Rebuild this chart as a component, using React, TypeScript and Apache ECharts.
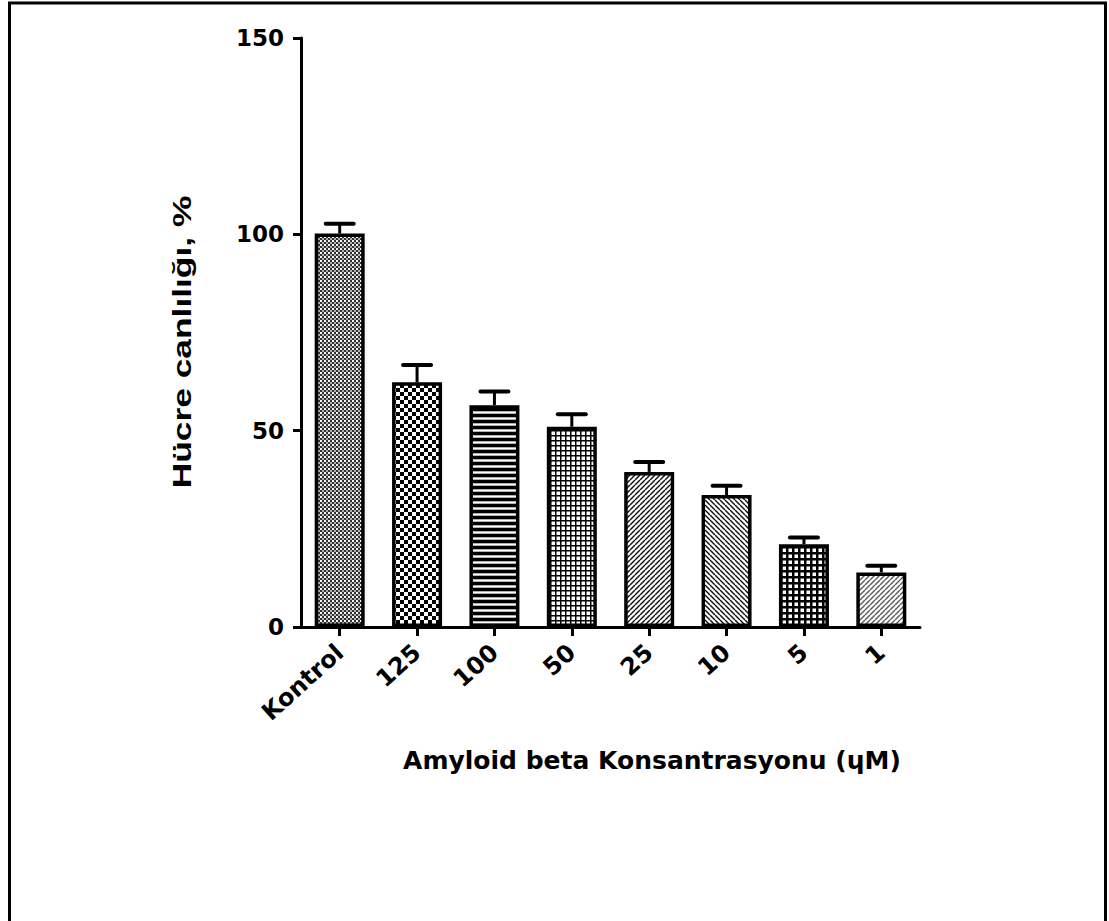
import React, { useEffect, useRef } from "react";
import * as echarts from "echarts";

const categories = ["Kontrol", "125", "100", "50", "25", "10", "5", "1"];
const meanValues = [100.2, 62.3, 56.5, 51.0, 39.5, 33.6, 21.1, 13.9];
const errorValues = [2.5, 4.4, 3.5, 3.2, 2.5, 2.4, 1.7, 1.7];
const yMin = 0;
const yMax = 150;
const yStep = 50;
const yAxisTitle = "Hücre canlılığı, %";
const xAxisTitle = "Amyloid beta Konsantrasyonu (ɥM)";
const patternKinds = ["fineChecker", "checker", "hstripes", "grid", "diagUp", "diagDown", "gridDense", "diagUpGray"];

function makePattern(kind: string) {
  const c = document.createElement("canvas");
  let s = 6;
  const ctx = () => c.getContext("2d") as CanvasRenderingContext2D;
  const fillBg = (g: CanvasRenderingContext2D, col: string) => {
    g.fillStyle = col;
    g.fillRect(0, 0, c.width, c.height);
  };
  if (kind === "fineChecker") {
    s = 4; c.width = s; c.height = s;
    const g = ctx();
    fillBg(g, "#303030");
    g.fillStyle = "#f4f4f4";
    g.fillRect(0, 0, 2, 2);
    g.fillStyle = "#b0b0b0";
    g.fillRect(2, 2, 2, 2);
  } else if (kind === "checker") {
    s = 8; c.width = s; c.height = s;
    const g = ctx();
    fillBg(g, "#ffffff");
    g.fillStyle = "#000";
    g.fillRect(0, 0, 4, 4);
    g.fillRect(4, 4, 4, 4);
  } else if (kind === "hstripes") {
    c.width = 4; c.height = 6;
    const g = ctx();
    fillBg(g, "#000");
    g.fillStyle = "#b0b0b0";
    g.fillRect(0, 3, 4, 1);
    g.fillStyle = "#ffffff";
    g.fillRect(0, 4, 4, 1);
    g.fillStyle = "#b0b0b0";
    g.fillRect(0, 5, 4, 1);
  } else if (kind === "grid" || kind === "gridDense") {
    s = kind === "grid" ? 5 : 6;
    const lw = kind === "grid" ? 1.5 : 2.5;
    c.width = s; c.height = s;
    const g = ctx();
    fillBg(g, "#ffffff");
    g.fillStyle = "#000";
    g.fillRect(0, 0, lw, s);
    g.fillRect(0, 0, s, lw);
  } else {
    s = 5; c.width = s; c.height = s;
    const g = ctx();
    fillBg(g, "#ffffff");
    g.strokeStyle = kind === "diagUpGray" ? "#5a5a5a" : "#111";
    g.lineWidth = 1.4;
    for (const k of [-s, 0, s]) {
      g.beginPath();
      if (kind === "diagDown") {
        g.moveTo(k, 0);
        g.lineTo(k + s, s);
      } else {
        g.moveTo(k, s);
        g.lineTo(k + s, 0);
      }
      g.stroke();
    }
  }
  return { image: c, repeat: "repeat", imageWidth: c.width, imageHeight: c.height };
}

export default function App() {
  const ref = useRef<HTMLDivElement>(null);
  useEffect(() => {
    document.body.style.margin = "0";
    const chart = echarts.init(ref.current as HTMLDivElement, null, { renderer: "svg" });
    const barData = meanValues.map((v, i) => ({
      value: v,
      itemStyle: { color: makePattern(patternKinds[i]) as any },
    }));
    const errData = meanValues.map((v, i) => [i, v, v + errorValues[i]]);
    chart.setOption({
      animation: false,
      backgroundColor: "#ffffff",
      grid: { left: 301, right: 189, top: 38, bottom: 294, containLabel: false },
      xAxis: {
        type: "category",
        data: categories,
        axisLine: { show: true, lineStyle: { color: "#000", width: 3 } },
        axisTick: { show: true, alignWithLabel: true, length: 9, lineStyle: { color: "#000", width: 3 } },
        axisLabel: {
          rotate: 42,
          margin: 22,
          color: "#000",
          fontFamily: "DejaVu Sans",
          fontWeight: "bold",
          fontSize: 24,
        },
        splitLine: { show: false },
      },
      yAxis: {
        type: "value",
        min: yMin,
        max: yMax,
        interval: yStep,
        axisLine: { show: true, lineStyle: { color: "#000", width: 3 } },
        axisTick: { show: true, length: 8, lineStyle: { color: "#000", width: 3 } },
        axisLabel: {
          margin: 17,
          color: "#000",
          fontFamily: "DejaVu Sans",
          fontWeight: "bold",
          fontSize: 23,
        },
        splitLine: { show: false },
      },
      graphic: [
        {
          type: "rect",
          silent: true,
          z: -10,
          shape: { x: 9.5, y: 3, width: 1096, height: 1000 },
          style: { fill: "none", stroke: "#000", lineWidth: 3 },
        },
        {
          type: "text",
          x: 182,
          y: 342,
          rotation: Math.PI / 2,
          scaleX: 1.36,
          scaleY: 1,
          style: {
            text: yAxisTitle,
            fill: "#000",
            font: "bold 26px 'Liberation Sans', Arial, sans-serif",
            align: "center",
            verticalAlign: "middle",
          },
        },
        {
          type: "text",
          x: 652,
          y: 760,
          style: {
            text: xAxisTitle,
            fill: "#000",
            font: "bold 25px 'DejaVu Sans', sans-serif",
            align: "center",
            verticalAlign: "middle",
          },
        },
      ],
      series: [
        {
          type: "bar",
          data: barData,
          barWidth: 50,
          itemStyle: { borderColor: "#000", borderWidth: 3.5 },
          z: 2,
        },
        {
          type: "custom",
          data: errData,
          encode: { x: 0, y: [1, 2] },
          z: 3,
          renderItem: (params: any, api: any) => {
            const i = api.value(0);
            const base = api.coord([i, api.value(1)]);
            const top = api.coord([i, api.value(2)]);
            const half = 14;
            return {
              type: "group",
              children: [
                {
                  type: "line",
                  shape: { x1: base[0], y1: base[1], x2: top[0], y2: top[1] },
                  style: { stroke: "#000", lineWidth: 3 },
                },
                {
                  type: "line",
                  shape: { x1: top[0] - half, y1: top[1], x2: top[0] + half, y2: top[1] },
                  style: { stroke: "#000", lineWidth: 4, lineCap: "round" },
                },
              ],
            };
          },
        },
      ],
    });
    return () => chart.dispose();
  }, []);
  return <div ref={ref} style={{ width: 1109, height: 921 }} />;
}
